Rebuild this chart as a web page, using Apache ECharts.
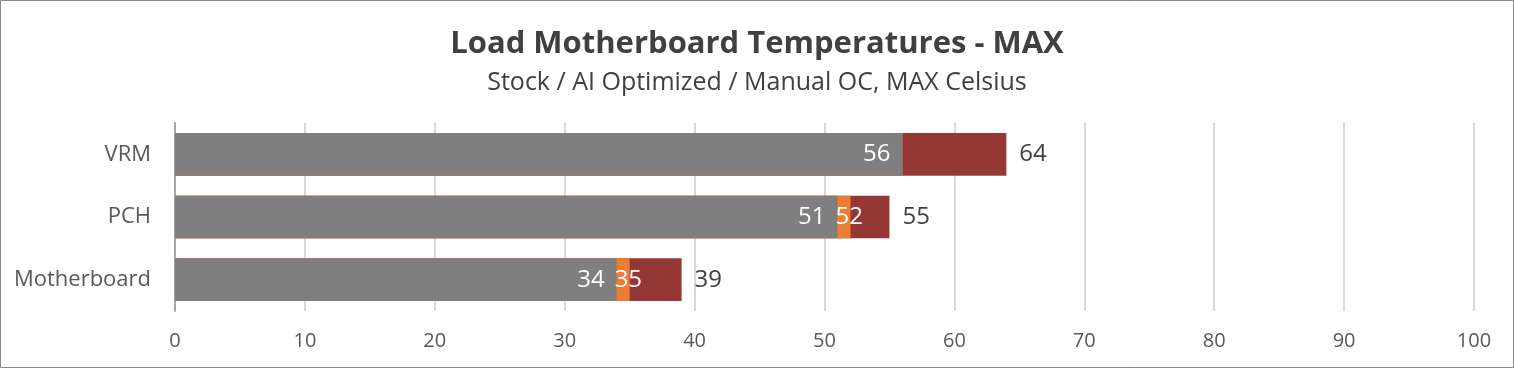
<!DOCTYPE html>
<html><head><meta charset="utf-8">
<script src="https://cdn.jsdelivr.net/npm/echarts@6/dist/echarts.min.js"></script>
<style>html,body{margin:0;padding:0;background:#fff}#c{width:1514px;height:368px}</style>
</head><body><div id="c"></div>
<script>
const categories = ['Motherboard', 'PCH', 'VRM'];
const stockValues = [34, 51, 56];
const aiOptimizedValues = [35, 52, 56];
const manualOCValues = [39, 55, 64];
const xTicks = [0, 10, 20, 30, 40, 50, 60, 70, 80, 90, 100];
const hideAiLabel = [false, false, true];

const chart = echarts.init(document.getElementById('c'), null, {renderer: 'canvas'});
const font = '"Open Sans", "DejaVu Sans", sans-serif';
chart.setOption({
  animation: false,
  backgroundColor: '#fff',
  title: [{
    text: 'Load Motherboard Temperatures - MAX',
    left: 'center', top: 24,
    textStyle: {fontFamily: font, fontSize: 31, fontWeight: 'bold', color: '#404040'}
  }, {
    text: 'Stock / AI Optimized / Manual OC, MAX Celsius',
    left: 'center', top: 65,
    textStyle: {fontFamily: font, fontSize: 25, fontWeight: 'normal', color: '#404040'}
  }],
  graphic: [{type: 'rect', shape: {x: 0.5, y: 0.5, width: 1513, height: 367}, style: {fill: 'none', stroke: '#888', lineWidth: 1}, silent: true}],
  grid: {left: 175, right: 40, top: 123, bottom: 57},
  xAxis: {
    type: 'value', min: xTicks[0], max: xTicks[xTicks.length - 1], interval: 10,
    axisLine: {show: false}, axisTick: {show: false},
    splitLine: {show: true, lineStyle: {color: '#d9d9d9', width: 2}},
    axisLabel: {fontFamily: font, fontSize: 20, color: '#595959', margin: 20}
  },
  yAxis: {
    type: 'category', data: categories,
    axisLine: {show: true, lineStyle: {color: '#a6a6a6', width: 2}},
    axisTick: {show: false},
    axisLabel: {fontFamily: font, fontSize: 22, color: '#595959', margin: 24}
  },
  series: [{
    name: 'Manual OC', type: 'bar', data: manualOCValues, barWidth: '68%', barGap: '-100%',
    itemStyle: {color: '#953735'},
    label: {show: true, position: 'right', distance: 13, fontFamily: font, fontSize: 24, color: '#404040'}
  }, {
    name: 'AI Optimized', type: 'bar', barWidth: '68%', barGap: '-100%',
    data: aiOptimizedValues.map((v, i) => ({value: v, label: {show: !hideAiLabel[i]}})),
    itemStyle: {color: '#ed7d31'},
    label: {show: true, position: 'right', distance: 0, offset: [-15, 0], fontFamily: font, fontSize: 24, color: '#fff'}
  }, {
    name: 'Stock', type: 'bar', data: stockValues, barWidth: '68%', barGap: '-100%',
    itemStyle: {color: '#7f7f7f'},
    label: {show: true, position: 'insideRight', distance: 12, fontFamily: font, fontSize: 24, color: '#fff'}
  }]
});
</script></body></html>
